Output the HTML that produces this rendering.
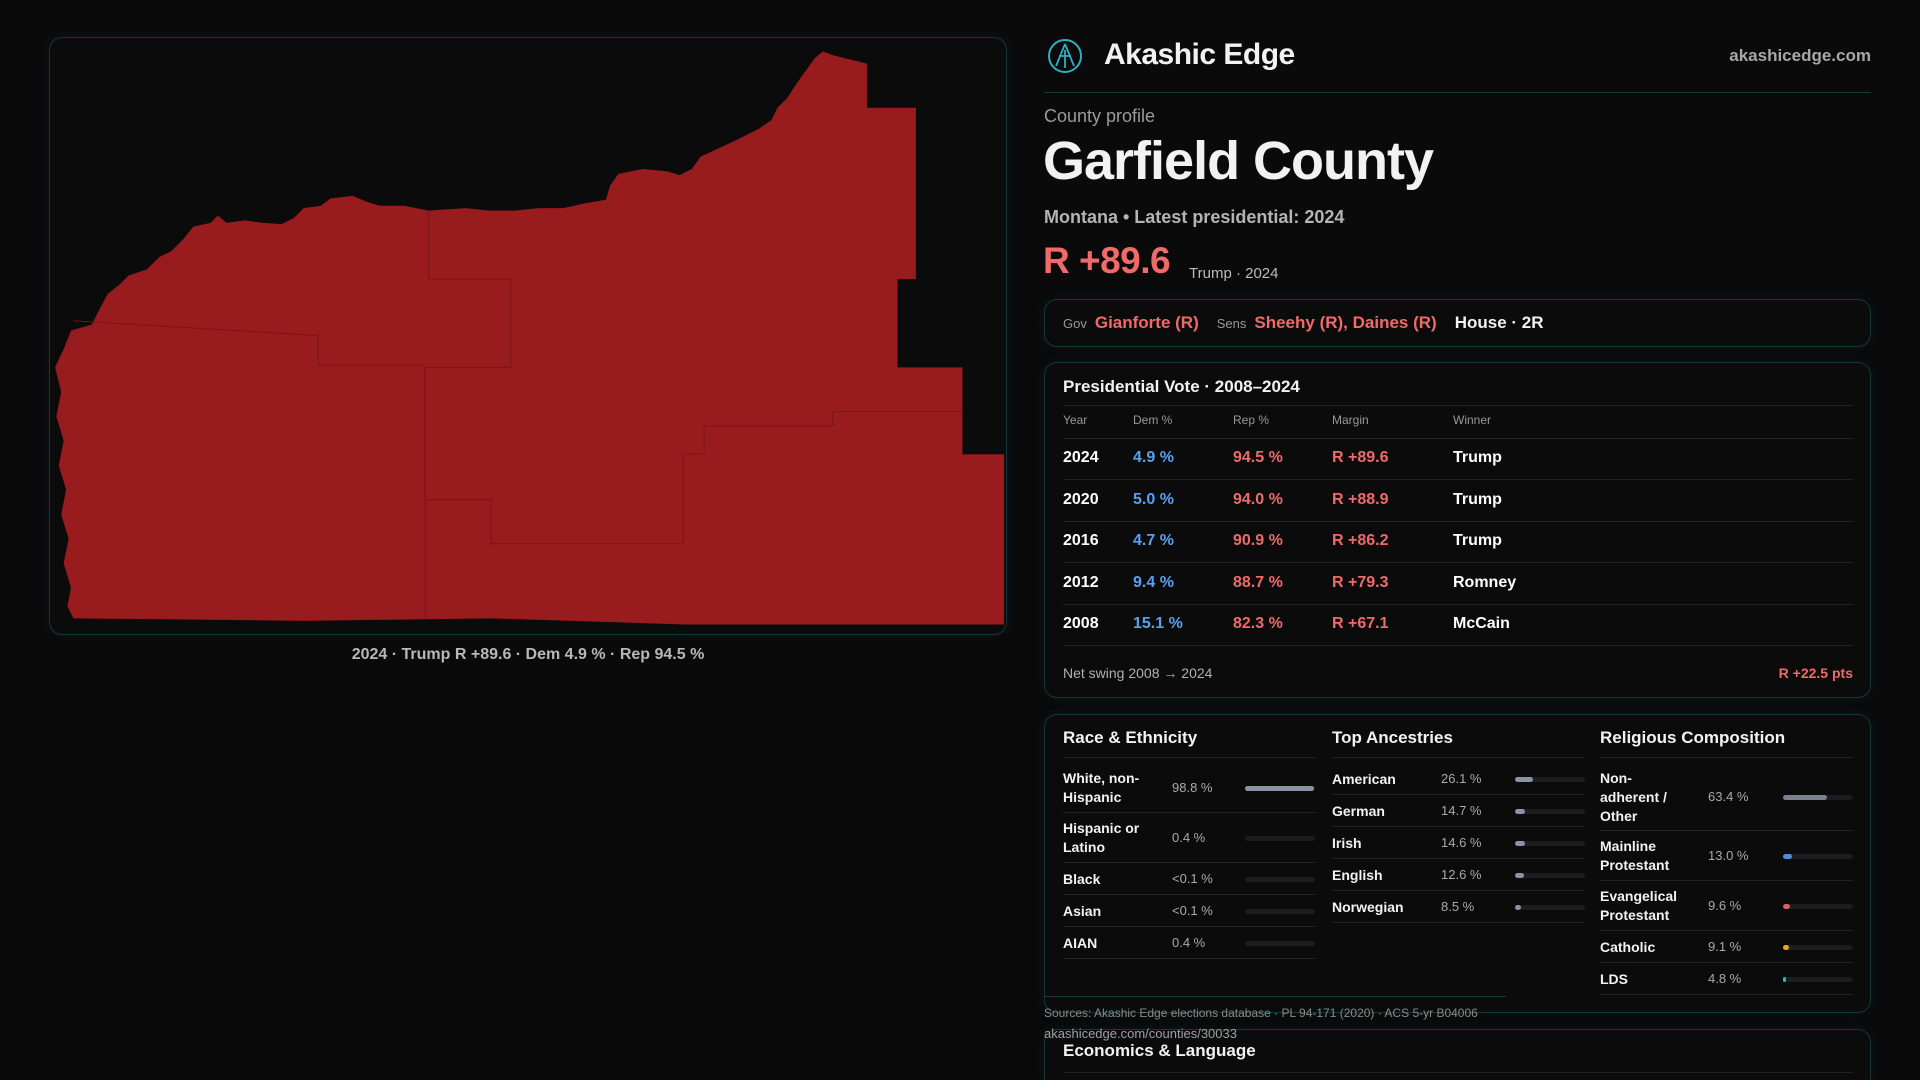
<!DOCTYPE html>
<html><head><meta charset="utf-8">
<style>
*{box-sizing:border-box;margin:0;padding:0}
html,body{width:1920px;height:1080px;overflow:hidden}
body{background:#0a0a0b;font-family:"Liberation Sans",sans-serif;color:#f2f2f2;position:relative}
.a{position:absolute;white-space:nowrap}
.box{position:absolute;border:1px solid #16363c;border-radius:13px;background:#0b0b0c;box-shadow:0 0 14px rgba(30,90,100,0.12)}
.hl{position:absolute;height:1px;background:#1f2226}
.red{color:#f06a6a}.blue{color:#5aa0f0}.gray{color:#9a9a9a}
.row{position:absolute;display:flex;align-items:center}
</style></head><body>
<div class="box" style="left:49px;top:37px;width:958px;height:598px;background:#0c0b0c"></div>
<svg class="a" style="left:0;top:0" width="1920" height="1080" viewBox="0 0 1568 882">
<path fill="#981b1e" d="M672,42 L680,45 L708,52 L708,88 L748,88 L748,228 L733,228 L733,300 L786,300 L786,371 L820,371 L820,510 L560,510 L400,505 L250,507 L60,505 L55,495 L58,480 L52,460 L56,440 L50,420 L54,400 L48,380 L52,360 L46,340 L50,320 L45,300 L52,285 L58,270 L75,265 L80,255 L88,240 L98,232 L105,225 L120,220 L130,210 L140,205 L150,195 L158,185 L172,182 L178,176 L185,182 L200,180 L215,182 L230,183 L240,178 L248,170 L262,168 L270,162 L288,160 L300,165 L310,168 L330,168 L350,172 L380,170 L400,172 L420,172 L440,170 L460,170 L478,166 L495,163 L498,152 L505,142 L525,138 L545,140 L555,143 L565,138 L572,128 L585,122 L600,115 L610,110 L620,105 L630,98 L635,88 L643,80 L648,72 L655,62 L660,55 L665,48 Z"/>
<g stroke="#7a1518" stroke-width="0.8" fill="none">
<path d="M350,172 L350,228 L417,228 L417,300 L347,300 L347,408 L401,408 L401,444 L558,444 L558,371 L575,371 L575,348 L680,348 L680,336 L786,336"/>
<path d="M260,274 L260,298 L347,298"/>
<path d="M60,262 L260,274"/>
<path d="M347,300 L347,505"/>
</g>
</svg>
<div class="a gray" style="left:0;width:1056px;text-align:center;top:646px;font-size:16px;color:#b8b8b8;font-weight:bold">2024 · Trump R +89.6 · Dem 4.9 % · Rep 94.5 %</div>

<svg class="a" style="left:1047px;top:38px" width="36" height="36" viewBox="0 0 36 36"><circle cx="18" cy="18" r="16" fill="none" stroke="#2fb0c0" stroke-width="2"/><path d="M18,6 L9,28 M18,6 L27,28 M12,18 L24,18 M18,12 L18,30" stroke="#2fb0c0" stroke-width="1.8" fill="none"/></svg>
<div class="a" style="left:1104px;top:38px;font-size:30px;font-weight:bold;letter-spacing:-0.5px">Akashic Edge</div>
<div class="a" style="right:49px;top:46px;font-size:17px;color:#a8a8a8;font-weight:bold">akashicedge.com</div>
<div class="hl" style="left:1044px;top:92px;width:827px;background:#1b3a40"></div>
<div class="a gray" style="left:1044px;top:106px;font-size:18px">County profile</div>
<div class="a" style="left:1043px;top:134px;font-size:54px;font-weight:bold;letter-spacing:-1px;line-height:1">Garfield County</div>
<div class="a" style="left:1044px;top:207px;font-size:18px;font-weight:bold;color:#b4b4b4">Montana • Latest presidential: 2024</div>
<div class="a red" style="left:1043px;top:240px;font-size:37px;font-weight:bold;letter-spacing:-0.5px">R +89.6</div>
<div class="a" style="left:1189px;top:265px;font-size:15px;color:#bbb">Trump · 2024</div>

<div class="box" style="left:1044px;top:299px;width:827px;height:48px"></div>
<div class="row" style="left:1063px;top:311px;height:24px;font-size:17px;font-weight:bold;gap:0">
<span style="font-size:13px;color:#999;font-weight:normal;margin-right:8px">Gov</span><span class="red" style="margin-right:18px">Gianforte (R)</span>
<span style="font-size:13px;color:#999;font-weight:normal;margin-right:8px">Sens</span><span class="red" style="margin-right:18px">Sheehy (R), Daines (R)</span>
<span>House · 2R</span></div>

<div class="box" style="left:1044px;top:362px;width:827px;height:336px"></div>
<div class="a" style="left:1063px;top:377px;font-size:17px;font-weight:bold">Presidential Vote · 2008–2024</div>
<div class="hl" style="left:1063px;top:405px;width:790px"></div>
<div id="thead"></div>
<div class="hl" style="left:1063px;top:438px;width:790px"></div>
<div id="tbody"></div>
<div class="a" style="left:1063px;top:665px;font-size:14px;color:#b0b0b0">Net swing 2008 → 2024</div>
<div class="a red" style="right:67px;top:665px;font-size:14px;font-weight:bold">R +22.5 pts</div>

<div class="box" style="left:1044px;top:714px;width:827px;height:299px"></div>
<div id="demo"></div>
<div class="hl" style="left:1044px;top:996px;width:462px;background:#1b3a40"></div>
<div class="box" style="left:1044px;top:1029px;width:827px;height:51px;border-bottom:none;border-bottom-left-radius:0;border-bottom-right-radius:0;background:#0b0b0c"></div>
<div class="a" style="left:1044px;top:1006px;font-size:12px;color:#8a8a8a">Sources: Akashic Edge elections database · PL 94-171 (2020) · ACS 5-yr B04006</div>
<div class="a" style="left:1044px;top:1026px;font-size:13px;color:#a0a0a0">akashicedge.com/counties/30033</div>
<div class="a" style="left:1063px;top:1041px;font-size:17px;font-weight:bold">Economics &amp; Language</div>
<div class="hl" style="left:1063px;top:1072px;width:790px"></div>

<script>
const years=["2024","2020","2016","2012","2008"];
const demPct=[4.9,5.0,4.7,9.4,15.1];
const repPct=[94.5,94.0,90.9,88.7,82.3];
const margins=[89.6,88.9,86.2,79.3,67.1];
const winners=["Trump","Trump","Trump","Romney","McCain"];
const headers=["Year","Dem %","Rep %","Margin","Winner"];
const raceLabels=["White, non-Hispanic","Hispanic or Latino","Black","Asian","AIAN"];
const raceValues=[98.8,0.4,0.05,0.05,0.4];
const raceText=["98.8 %","0.4 %","<0.1 %","<0.1 %","0.4 %"];
const ancLabels=["American","German","Irish","English","Norwegian"];
const ancValues=[26.1,14.7,14.6,12.6,8.5];
const relLabels=["Non- adherent / Other","Mainline Protestant","Evangelical Protestant","Catholic","LDS"];
const relValues=[63.4,13.0,9.6,9.1,4.8];

const colX=[1063,1133,1233,1332,1453];
const th=document.getElementById('thead');
headers.forEach((h,i)=>{const d=document.createElement('div');d.className='a';


d.style.cssText=`left:${colX[i]}px;top:413px;font-size:12px;color:#999`;d.textContent=h;th.appendChild(d);});
const tb=document.getElementById('tbody');
years.forEach((y,r)=>{const top=438+r*41.6;
const cells=[[y,'#fff'],[demPct[r].toFixed(1)+' %','#5aa0f0'],[repPct[r].toFixed(1)+' %','#f06a6a'],['R +'+margins[r].toFixed(1),'#f06a6a'],[winners[r],'#fff']];
cells.forEach((c,i)=>{const d=document.createElement('div');d.className='a';


d.style.cssText=`left:${colX[i]}px;top:${top+11}px;font-size:16px;font-weight:bold;color:${c[1]}`;d.textContent=c[0];tb.appendChild(d);});
const l=document.createElement('div');l.className='hl';


l.style.cssText=`left:1063px;top:${top+41}px;width:790px`;tb.appendChild(l);});

const demo=document.getElementById('demo');
function section(x,title,labels,vals,texts,heights,labelW,valX,barX,colors){
 const t=document.createElement('div');t.className='a';
 
 
 t.style.cssText=`left:${x}px;top:728px;font-size:17px;font-weight:bold`;t.textContent=title;demo.appendChild(t);
 const u=document.createElement('div');u.className='hl';
 
 
 u.style.cssText=`left:${x}px;top:757px;width:253px`;demo.appendChild(u);
 let y=763;
 labels.forEach((lab,i)=>{const h=heights[i];
  const L=document.createElement('div');L.className='a';
  
  
  L.style.cssText=`left:${x}px;top:${y}px;height:${h}px;width:${labelW}px;white-space:normal;display:flex;align-items:center;font-size:14px;font-weight:bold;line-height:19px`;L.textContent=lab;demo.appendChild(L);
  const V=document.createElement('div');V.className='a';
  
  
  V.style.cssText=`left:${valX}px;top:${y+h/2-8}px;font-size:13px;color:#aaa`;V.textContent=texts?texts[i]:vals[i].toFixed(1)+' %';demo.appendChild(V);
  const T=document.createElement('div');T.className='a';
  
  
  T.style.cssText=`left:${barX}px;top:${y+h/2-2.5}px;width:70px;height:5px;border-radius:3px;background:#1c1d21`;demo.appendChild(T);
  const B=document.createElement('div');B.className='a';
  
  
  B.style.cssText=`left:${barX}px;top:${y+h/2-2.5}px;width:${vals[i]<1?0:Math.max(3,70*vals[i]/100)}px;height:5px;border-radius:3px;background:${colors[i]}`;demo.appendChild(B);
  y+=h;
  const r=document.createElement('div');r.className='hl';
  
  
  r.style.cssText=`left:${x}px;top:${y-1}px;width:253px`;demo.appendChild(r);
 });
}
const g='#8a93a3';
section(1063,'Race & Ethnicity',raceLabels,raceValues,raceText,[50,50,32,32,32],95,1172,1245,[g,g,g,g,g]);
section(1332,'Top Ancestries',ancLabels,ancValues,null,[32,32,32,32,32],100,1441,1515,[g,g,g,g,g]);
section(1600,'Religious Composition',relLabels,relValues,null,[68,50,50,32,32],80,1708,1783,['#7a808c','#4a8ee0','#e05a5a','#e0a81c','#20c0b0']);
</script>
</body></html>
